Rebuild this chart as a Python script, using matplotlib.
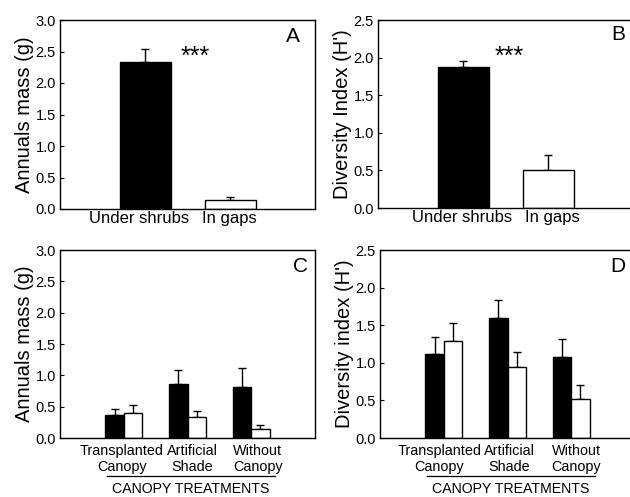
import numpy as np
import matplotlib
matplotlib.use("Agg")
from matplotlib import pyplot as plt
import matplotlib.transforms as mtransforms

plt.rcParams['font.family'] = ['Liberation Sans', 'DejaVu Sans']

# top row: under shrubs vs. in gaps
habitat = ["Under shrubs", "In gaps"]
mass_habitat = [2.33, 0.14]
mass_habitat_se = [0.21, 0.05]
div_habitat = [1.87, 0.51]
div_habitat_se = [0.09, 0.20]

# bottom row: canopy treatments, black = under shrub, white = gap
treatments = ["Transplanted\nCanopy", "Artificial\nShade", "Without\nCanopy"]
mass_shrub = [0.36, 0.86, 0.82]
mass_shrub_se = [0.11, 0.23, 0.30]
mass_gap = [0.40, 0.33, 0.14]
mass_gap_se = [0.13, 0.10, 0.06]
div_shrub = [1.12, 1.60, 1.08]
div_shrub_se = [0.22, 0.24, 0.24]
div_gap = [1.29, 0.95, 0.52]
div_gap_se = [0.24, 0.20, 0.19]

W, H = 630, 497
fig = plt.figure(figsize=(6.3, 4.97), dpi=100)


def px_axes(left, top, right, bottom):
    return fig.add_axes([left / W, 1 - bottom / H, (right - left) / W, (bottom - top) / H])


def style(ax, ymax, ylabel, xsize, xpad):
    ax.set_ylim(0, ymax)
    ax.set_yticks(np.arange(0, ymax + 0.01, 0.5))
    ax.set_yticklabels([f"{v:.1f}" for v in np.arange(0, ymax + 0.01, 0.5)])
    ax.tick_params(axis='y', direction='in', length=3, width=0.8, labelsize=10.5, pad=3)
    ax.tick_params(axis='x', length=0, labelsize=xsize, pad=xpad)
    ax.set_ylabel(ylabel, fontsize=14.5, labelpad=1)
    for s in ax.spines.values():
        s.set_linewidth(1.0)


def bars(ax, x, vals, errs, color, width):
    ax.bar(x, vals, width=width, color=color, edgecolor='black', linewidth=1.0, zorder=2)
    ax.errorbar(x, vals, yerr=[np.zeros(len(vals)), errs], fmt='none',
                ecolor='black', elinewidth=1.0, capsize=3, capthick=1.0, zorder=1)


def treatment_axis(ax):
    trans = mtransforms.blended_transform_factory(ax.transData, ax.transAxes)
    ax.plot([0.74, 3.37], [-0.2, -0.2], color='black', lw=0.9,
            transform=trans, clip_on=False)
    ax.text(2.05, -0.27, "CANOPY TREATMENTS", transform=trans, ha='center',
            va='center', fontsize=10.2)


# A
axA = px_axes(60, 20, 315, 209)
bars(axA, [1, 2], mass_habitat, mass_habitat_se, ['black', 'white'], 0.6)
axA.set_xlim(0, 3)
axA.set_xticks([0.93, 1.99])
axA.set_xticklabels(habitat)
style(axA, 3.0, "Annuals mass (g)", 12, 1.5)
fig.text(195 / W, 1 - 64 / H, "***", ha='center', va='baseline', fontsize=18)

# B
axB = px_axes(378, 20, 633, 208)
bars(axB, [1, 2], div_habitat, div_habitat_se, ['black', 'white'], 0.6)
axB.set_xlim(0, 3)
axB.set_xticks([0.99, 2.05])
axB.set_xticklabels(habitat)
style(axB, 2.5, "Diversity Index (H')", 12, 1.5)
fig.text(509 / W, 1 - 64 / H, "***", ha='center', va='baseline', fontsize=18)

# C
xg = np.arange(1, 4)
bw = 0.29
axC = px_axes(60, 250, 315, 438)
bars(axC, xg - bw / 2, mass_shrub, mass_shrub_se, 'black', bw)
bars(axC, xg + bw / 2, mass_gap, mass_gap_se, 'white', bw)
axC.set_xlim(0, 4)
axC.set_xticks([0.97, 2.08, 3.10])
axC.set_xticklabels(treatments)
style(axC, 3.0, "Annuals mass (g)", 10.4, 4.5)
treatment_axis(axC)

# D
axD = px_axes(380, 250, 635, 438)
bars(axD, xg - bw / 2, div_shrub, div_shrub_se, 'black', bw)
bars(axD, xg + bw / 2, div_gap, div_gap_se, 'white', bw)
axD.set_xlim(0, 4)
axD.set_xticks([0.93, 2.03, 3.08])
axD.set_xticklabels(treatments)
style(axD, 2.5, "Diversity index (H')", 10.4, 4.5)
treatment_axis(axD)

for letter, (x, y) in zip("ABCD", [(293, 36), (618, 34), (301, 267), (618, 267)]):
    fig.text(x / W, 1 - y / H, letter, ha='center', va='center', fontsize=15)

fig.savefig("out.png", dpi=100)
